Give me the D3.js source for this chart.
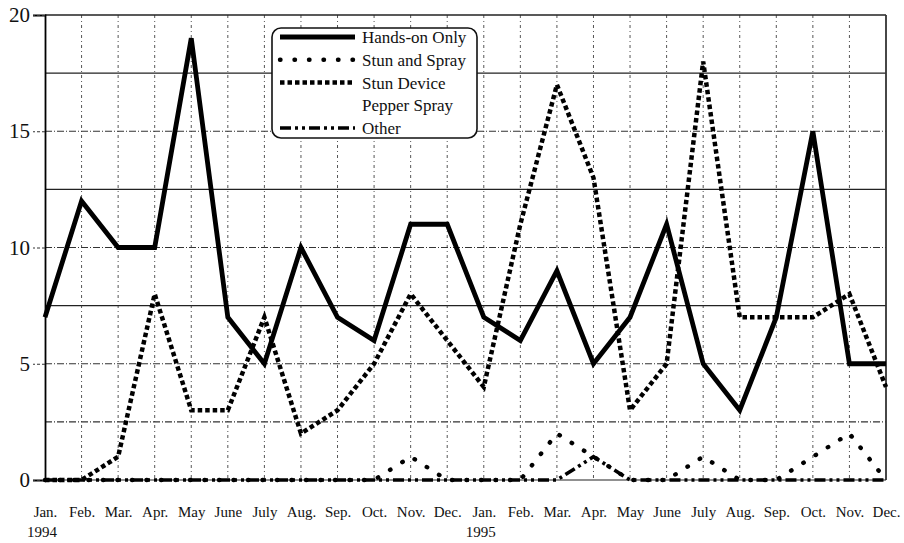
<!DOCTYPE html>
<html>
<head>
<meta charset="utf-8">
<script src="https://cdn.jsdelivr.net/npm/d3@7"></script>
<style>
  html, body { margin: 0; padding: 0; background: #fff; }
  svg { display: block; }
  text { font-family: "Liberation Serif", "DejaVu Serif", serif; fill: #111; }
</style>
</head>
<body>
<svg id="chart" width="904" height="543"></svg>
<script>
// Monthly incident counts, Jan. 1994 – Dec. 1995
const months = ["Jan.", "Feb.", "Mar.", "Apr.", "May", "June", "July", "Aug.", "Sep.", "Oct.", "Nov.", "Dec.",
                "Jan.", "Feb.", "Mar.", "Apr.", "May", "June", "July", "Aug.", "Sep.", "Oct.", "Nov.", "Dec."];
const years = ["1994", "1995"];
const yTicks = [0, 5, 10, 15, 20];

const handsOnOnly  = [7, 12, 10, 10, 19, 7, 5, 10, 7, 6, 11, 11,   7, 6, 9, 5, 7, 11, 5, 3, 7, 15, 5, 5];
const stunAndSpray = [0, 0, 0, 0, 0, 0, 0, 0, 0, 0, 1, 0,          0, 0, 2, 1, 0, 0, 1, 0, 0, 1, 2, 0];
const stunDevice   = [0, 0, 1, 8, 3, 3, 7, 2, 3, 5, 8, 6,          4, 11, 17, 13, 3, 5, 18, 7, 7, 7, 8, 4];
const pepperSpray  = [0, 0, 0, 0, 0, 0, 0, 0, 0, 0, 0, 0,          0, 0, 0, 0, 0, 0, 0, 0, 0, 0, 0, 0];
const other        = [0, 0, 0, 0, 0, 0, 0, 0, 0, 0, 0, 0,          0, 0, 0, 1, 0, 0, 0, 0, 0, 0, 0, 0];

const seriesNames = ["Hands-on Only", "Stun and Spray", "Stun Device", "Pepper Spray", "Other"];
const seriesValues = [handsOnOnly, stunAndSpray, stunDevice, pepperSpray, other];

// Line styles per series (stroke, width, dash pattern)
const styles = {
  "Hands-on Only":  { stroke: "#000", width: 4.8, dash: null, cap: "butt" },
  "Stun and Spray": { stroke: "#000", width: 4.4, dash: "0.5,14", cap: "round" },
  "Stun Device":    { stroke: "#000", width: 4.5, dash: "4.5,3", cap: "butt" },
  "Pepper Spray":   { stroke: "none", width: 3, dash: null, cap: "butt" },
  "Other":          { stroke: "#000", width: 3.6, dash: "11,4,3,4,3,4", cap: "butt" }
};

const svg = d3.select("#chart");
const plotL = 45, plotR = 886, plotT = 15, plotB = 480;

const idx = months.map((m, i) => i);
const x = d3.scalePoint().domain(idx).range([plotL, plotR]);
const y = d3.scaleLinear().domain([0, 20]).range([plotB, plotT]);

// Vertical grid (one per month)
svg.append("g").selectAll("line").data(idx.slice(1, -1)).join("line")
  .attr("x1", d => x(d)).attr("x2", d => x(d))
  .attr("y1", plotT).attr("y2", plotB)
  .attr("stroke", "#555").attr("stroke-width", 1).attr("stroke-dasharray", "3,3,1,3");

// Horizontal grid every 2.5
const gridVals = d3.range(2.5, 20, 2.5);
const dashedGrid = d => d % 5 === 0 || d === 2.5;
svg.append("g").selectAll("line").data(gridVals).join("line")
  .attr("x1", plotL).attr("x2", plotR)
  .attr("y1", d => y(d)).attr("y2", d => y(d))
  .attr("stroke", d => dashedGrid(d) ? "#333" : "#222")
  .attr("stroke-width", d => dashedGrid(d) ? 1.1 : 1.3)
  .attr("stroke-dasharray", d => dashedGrid(d) ? "7,2,1,2" : null);

// Frame: top and right borders
svg.append("line").attr("x1", plotL).attr("x2", plotR).attr("y1", y(20)).attr("y2", y(20))
  .attr("stroke", "#222").attr("stroke-width", 1.4);
svg.append("line").attr("x1", plotR).attr("x2", plotR).attr("y1", plotT).attr("y2", plotB)
  .attr("stroke", "#333").attr("stroke-width", 1.8);

// Y axis
const yAxis = d3.axisLeft(y).tickValues(yTicks).tickSize(12).tickPadding(3).tickFormat(d3.format("d"));
const gy = svg.append("g").attr("transform", `translate(${plotL},0)`).call(yAxis);
gy.select(".domain").attr("stroke", "#000").attr("stroke-width", 1.8);
gy.selectAll(".tick line").attr("stroke", "#333").attr("stroke-dasharray", "3,2");
gy.selectAll(".tick text").style("font-family", "'Liberation Serif', serif").style("font-size", "21px").attr("fill", "#111");

// Baseline
svg.append("line").attr("x1", plotL).attr("x2", plotR).attr("y1", plotB).attr("y2", plotB)
  .attr("stroke", "#222").attr("stroke-width", 1.2);

// X axis month labels
const xAxis = d3.axisBottom(x).tickSize(0).tickPadding(0).tickFormat(i => months[i]);
const gx = svg.append("g").attr("transform", `translate(0,${plotB})`).call(xAxis);
gx.select(".domain").remove();
gx.selectAll(".tick text").attr("y", 37).attr("dy", 0)
  .style("font-family", "'Liberation Serif', serif").style("font-size", "15px").attr("fill", "#111");

// Year labels under the first January of each year
svg.append("g").selectAll("text").data(years).join("text")
  .attr("x", (d, i) => x(i * 12) - 18).attr("y", 537)
  .style("font-size", "15px").text(d => d);

// Series lines
const line = d3.line().x((d, i) => x(i)).y(d => y(d)).curve(d3.curveLinear);
const drawOrder = ["Pepper Spray", "Other", "Stun and Spray", "Stun Device", "Hands-on Only"];
svg.append("g").selectAll("path").data(drawOrder).join("path")
  .attr("d", name => line(seriesValues[seriesNames.indexOf(name)]))
  .attr("fill", "none")
  .attr("stroke", name => styles[name].stroke)
  .attr("stroke-width", name => styles[name].width)
  .attr("stroke-dasharray", name => styles[name].dash)
  .attr("stroke-linecap", name => styles[name].cap)
  .attr("stroke-linejoin", "miter");

// Legend
const lg = svg.append("g").attr("transform", "translate(272,28)");
lg.append("rect").attr("width", 205).attr("height", 110).attr("rx", 9).attr("ry", 9)
  .attr("fill", "#fff").attr("stroke", "#111").attr("stroke-width", 1.6);
const rowY = i => 9 + i * 22.75;
const rows = lg.selectAll("g.row").data(seriesNames).join("g").attr("class", "row")
  .attr("transform", (d, i) => `translate(0,${rowY(i)})`);
rows.append("line").attr("x1", 8).attr("x2", 83).attr("y1", 0).attr("y2", 0)
  .attr("stroke", d => styles[d].stroke)
  .attr("stroke-width", d => styles[d].width)
  .attr("stroke-dasharray", d => styles[d].dash)
  .attr("stroke-linecap", d => styles[d].cap);
rows.append("text").attr("x", 90).attr("y", 6).style("font-size", "17px").text(d => d);
</script>
</body>
</html>
